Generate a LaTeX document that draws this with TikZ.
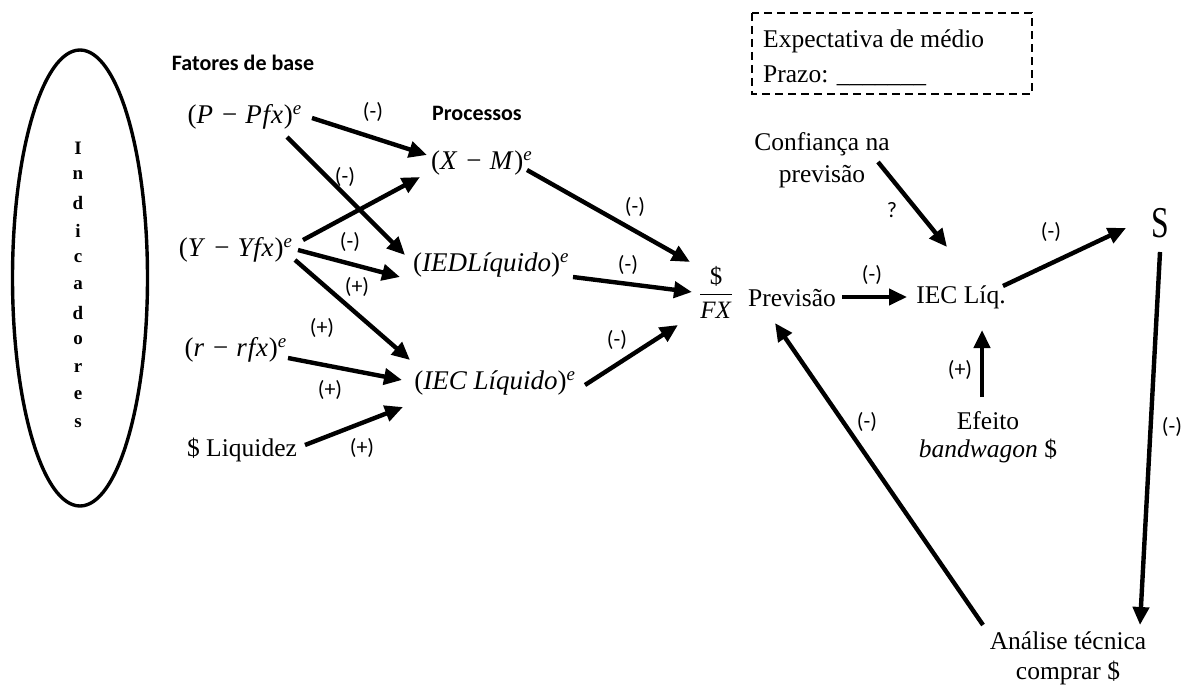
\documentclass[tikz,border=0pt]{standalone}
\usepackage{fontspec}
\usepackage{amsmath}
\usepackage{graphicx}
\setmainfont{Liberation Serif}
\newfontfamily\labfont{Carlito}
\newfontfamily\varfont[LetterSpace=3]{Liberation Serif}
\usetikzlibrary{arrows.meta,calc}

% italic variables set in the text face, with an upright minus
\newcommand{\vv}[1]{\textit{#1}}
\newcommand{\mn}{\hspace{0.3em}−\hspace{0.3em}}
\newcommand{\ex}{\textsuperscript{\textit{e}}}

\tikzset{
  txt/.style={font=\fontsize{25.5}{30}\selectfont, inner sep=0pt},
  mth/.style={font=\fontsize{27}{30}\selectfont, inner sep=0pt},
  mthw/.style={font=\varfont\fontsize{27}{30}\selectfont, inner sep=0pt},
  head/.style={font=\labfont\bfseries\fontsize{22}{26}\selectfont, inner sep=0pt},
  sign/.style={font=\labfont\fontsize{22}{26}\selectfont, inner sep=0pt},
  letter/.style={font=\bfseries\fontsize{19}{22}\selectfont, inner sep=0pt},
  link/.style={line width=4.4pt, -{Triangle[length=18pt,width=16pt]}},
  dashbox/.style={line width=2.5pt, dash pattern=on 8pt off 5pt},
}

\begin{document}
\begin{tikzpicture}[x=1pt,y=-1pt]
\useasboundingbox (0,0) rectangle (1191,687);

% column of indicators
\draw[line width=3.4pt] (80,278) ellipse [x radius=67.5, y radius=228];
\foreach \l [count=\i] in {I,n,d,i,c,a,d,o,r,e,s}
  \node[letter] (ind\i) at (78,{148+27.5*(\i-1)}) {\l};

% headings
\node[head] (fb) at (243,63) {Fatores de base};
\node[head] (proc) at (477,113) {Processos};

% base factors
\node[mthw] (P) at (245,117) {(\vv{P}\mn\vv{Pfx})\ex};
\node[mthw] (Y) at (236,250) {(\vv{Y}\mn\vv{Yfx})\ex};
\node[mthw] (r) at (236,350) {(\vv{r}\mn\vv{rfx})\ex};
\node[txt] (liq) at (242,450) {\$ Liquidez};

% processes
\node[mthw] (XM) at (482,163) {(\vv{X}\mn\vv{M})\ex};
\node[mth] (IED) at (491,265) {(\vv{IEDLíquido})\ex};
\node[mth] (IEC) at (495,383) {(\vv{IEC Líquido})\ex};

% forecast chain
\node[font=\fontsize{25}{28}\selectfont, inner sep=0pt] (fx) at (716,292) {$\dfrac{\text{\$}}{\text{\textit{FX}}}$};
\node[txt] (prev) at (792,298) {Previsão};
\node[txt] (iecl) at (961,297) {IEC Líq.};
\node[font=\fontsize{44}{48}\selectfont, inner sep=0pt] (S) at (1160,223) {\scalebox{0.72}[1]{S}};
\node[txt, align=center, font=\fontsize{25.5}{32}\selectfont] (conf) at (822,160) {Confiança na\\previsão};
\node[txt, align=center, font=\fontsize{25.5}{28}\selectfont] (efeito) at (988,437) {Efeito\\\textit{bandwagon} \$};
\node[txt, align=center, font=\fontsize{25.5}{30}\selectfont] (analise) at (1068,658) {Análise técnica\\comprar \$};

% medium-term expectation box
\draw[dashbox] (752,13) rectangle (1032,94);
\node[txt, anchor=base west] (exp) at (763,48) {Expectativa de médio};
\node[txt, anchor=base west] (prazo) at (763,83) {Prazo: \_\_\_\_\_\_\_};

% influences of the base factors
\draw[link] ([shift={(67,1)}]P.center) -- ([shift={(-55,-8)}]XM.center);
\draw[link] ([shift={(42,20)}]P.center) -- ([shift={(-86,-10)}]IED.center);
\draw[link] ([shift={(67,-10)}]Y.center) -- ([shift={(-62,14)}]XM.center);
\draw[link] ([shift={(62,0)}]Y.center) -- ([shift={(-91,12)}]IED.center);
\draw[link] ([shift={(59,10)}]Y.center) -- ([shift={(-85,-23)}]IEC.center);
\draw[link] ([shift={(52,8)}]r.center) -- ([shift={(-93,-3)}]IEC.center);
\draw[link] ([shift={(63,-5)}]liq.center) -- ([shift={(-92,24)}]IEC.center);

% processes to the forecast
\draw[link] ([shift={(45,7)}]XM.center) -- ([shift={(-26,-30)}]fx.center);
\draw[link] ([shift={(82,12)}]IED.center) -- ([shift={(-24,0)}]fx.center);
\draw[link] ([shift={(90,2)}]IEC.center) -- ([shift={(-38,33)}]fx.center);

% forecast and position loop
\draw[link] ([shift={(50,-1)}]prev.center) -- ([shift={(-54,0)}]iecl.center);
\draw[link] ([shift={(56,2)}]conf.center) -- ([shift={(-14,-50)}]iecl.center);
\draw[link] ([shift={(42,-11)}]iecl.center) -- ([shift={(-34,5)}]S.center);
\draw[link] ([shift={(0,29)}]S.center) -- ([shift={(72,-33)}]analise.center);
\draw[link] ([shift={(-6,-40)}]efeito.center) -- ([shift={(21,33)}]iecl.center);
\draw[link] ([shift={(-85,-33)}]analise.center) -- ([shift={(-17,25)}]prev.center);

% signs on the links
\node[sign] (s1) at (373,112) {(-)};
\node[sign] (s2) at (345,177) {(-)};
\node[sign] (s3) at (350,242) {(-)};
\node[sign] (s4) at (357,287) {(+)};
\node[sign] (s5) at (322,328) {(+)};
\node[sign] (s6) at (330,390) {(+)};
\node[sign] (s7) at (362,448) {(+)};
\node[sign] (s8) at (635,207) {(-)};
\node[sign] (s9) at (628,265) {(-)};
\node[sign] (s10) at (617,340) {(-)};
\node[sign] (s11) at (872,275) {(-)};
\node[sign] (s12) at (892,210) {?};
\node[sign] (s13) at (1051,232) {(-)};
\node[sign] (s14) at (960,370) {(+)};
\node[sign] (s15) at (867,422) {(-)};
\node[sign] (s16) at (1172,427) {(-)};
\end{tikzpicture}
\end{document}
